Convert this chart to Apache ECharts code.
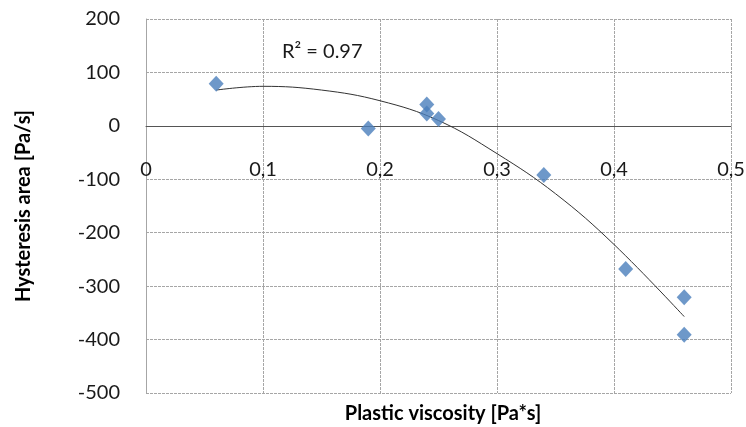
<!DOCTYPE html>
<html><head><meta charset="utf-8">
<script src="https://cdn.jsdelivr.net/npm/echarts@6/dist/echarts.min.js"></script>
<style>html,body{margin:0;padding:0;background:#fff}#c{width:746px;height:427px}</style>
</head><body><div id="c"></div>
<script>
const plasticViscosity = [0.06, 0.19, 0.24, 0.24, 0.25, 0.34, 0.41, 0.46, 0.46];
const hysteresisArea = [79, -5, 40, 23, 13, -92, -268, -321, -391];
const trendX = [0.06, 0.10, 0.15, 0.20, 0.25, 0.30, 0.35, 0.40, 0.46];
const trendY = [67, 74, 67, 47, 10, -52, -127, -222, -357];
const xTicks = ['0', '0,1', '0,2', '0,3', '0,4', '0,5'];
const rSquaredText = 'R² = 0.97';

const FONT = 'Lato';
const GRID_TOP = 19, GRID_BOTTOM_PX = 393, Y_MIN = -500, Y_MAX = 200;
const zeroPx = GRID_TOP + (GRID_BOTTOM_PX - GRID_TOP) * (Y_MAX - 0) / (Y_MAX - Y_MIN);
const chart = echarts.init(document.getElementById('c'), null, {renderer: 'canvas'});
chart.setOption({
  animation: false,
  backgroundColor: '#fff',
  textStyle: {fontFamily: FONT},
  grid: {left: 146, right: 15, top: GRID_TOP, bottom: 427 - GRID_BOTTOM_PX, containLabel: false, outerBoundsMode: 'none'},
  title: [
    {text: rSquaredText, left: 277, top: 37, textStyle: {fontFamily: FONT, fontSize: 20, fontWeight: 'normal', color: '#1a1a1a'}},
    {text: 'Plastic viscosity [Pa*s]', left: 438, textAlign: 'center', top: 399, textStyle: {fontFamily: FONT, fontSize: 20, fontWeight: 'bold', color: '#000'}}
  ],
  xAxis: {
    type: 'value', min: 0, max: 0.5, interval: 0.1,
    position: 'bottom',
    offset: -(GRID_BOTTOM_PX - zeroPx),
    axisLine: {show: true, onZero: false, lineStyle: {color: '#555', width: 1}},
    axisTick: {show: false},
    axisLabel: {margin: 34, fontSize: 20, color: '#1a1a1a', fontFamily: FONT,
      formatter: v => xTicks[Math.round(v * 10)]},
    splitLine: {show: true, lineStyle: {color: '#a6a6a6', type: [3, 1], width: 1}}
  },
  yAxis: {
    type: 'value', min: Y_MIN, max: Y_MAX, interval: 100,
    name: 'Hysteresis area [Pa/s]', nameLocation: 'middle', nameGap: 112,
    nameTextStyle: {fontFamily: FONT, fontSize: 20, fontWeight: 'bold', color: '#000'},
    axisLine: {show: true, onZero: false, lineStyle: {color: '#a6a6a6', width: 1}},
    axisTick: {show: false},
    axisLabel: {margin: 26, fontSize: 20, color: '#1a1a1a', fontFamily: FONT},
    splitLine: {show: true, lineStyle: {color: '#a6a6a6', type: [3, 1], width: 1}}
  },
  series: [
    {
      type: 'line', data: trendX.map((x, i) => [x, trendY[i]]), smooth: 0.4,
      showSymbol: false, lineStyle: {color: '#333', width: 1}, z: 3
    },
    {
      type: 'scatter', data: plasticViscosity.map((x, i) => [x, hysteresisArea[i]]),
      symbol: 'diamond', symbolSize: [15, 16], itemStyle: {color: '#4a7ebb'}, z: 4
    }
  ]
});
</script></body></html>
